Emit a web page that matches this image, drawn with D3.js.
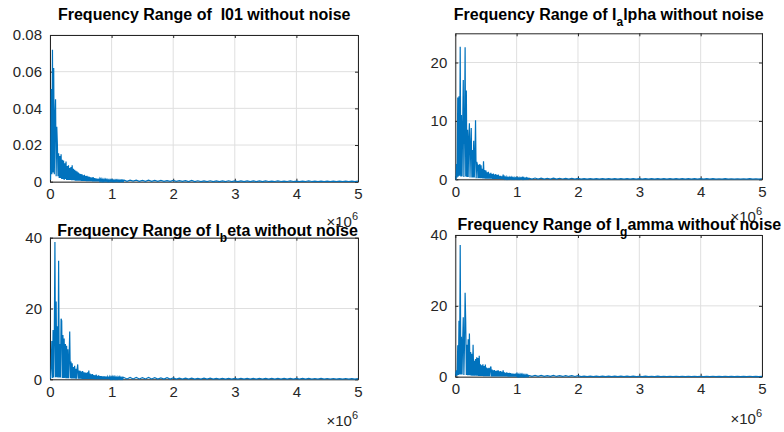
<!DOCTYPE html>
<html><head><meta charset="utf-8">
<script src="https://cdn.jsdelivr.net/npm/d3@7"></script>
<style>
body{margin:0;background:#fff}
svg{display:block;font-family:Arial,"Liberation Sans",Helvetica,sans-serif}
</style>
</head><body><svg id="c" width="784" height="432"></svg>
<script>
// frequency axis in units of 10^6 Hz
const xTicks = [0, 1, 2, 3, 4, 5];
const xTickLabels = ["0", "1", "2", "3", "4", "5"];
const denseStep = 0.01;   // spacing of dense samples (0 .. 1.19)
const tailStart = 1.2;    // first tail sample
const tailStep = 0.05;    // spacing of tail samples (1.2 .. 5.0)

// I01
const i01Dense = [
 0.0065,0.0010,0.0505,0.0040,0.0720,0.0050,0.0620,0.0040,0.0350,0.0450,
 0.0030,0.0300,0.0200,0.0030,0.0155,0.0020,0.0140,0.0020,0.0150,0.0015,
 0.0120,0.0015,0.0115,0.0010,0.0100,0.0015,0.0110,0.0010,0.0085,0.0010,
 0.0090,0.0010,0.0075,0.0010,0.0080,0.0008,0.0090,0.0008,0.0070,0.0008,
 0.0065,0.0006,0.0060,0.0006,0.0055,0.0006,0.0050,0.0005,0.0045,0.0005,
 0.0042,0.0004,0.0040,0.0004,0.0035,0.0004,0.0038,0.0004,0.0030,0.0003,
 0.0032,0.0003,0.0028,0.0003,0.0026,0.0003,0.0024,0.0003,0.0022,0.0002,
 0.0025,0.0002,0.0020,0.0002,0.0018,0.0002,0.0017,0.0002,0.0016,0.0002,
 0.0015,0.0002,0.0014,0.0002,0.0014,0.0002,0.0013,0.0002,0.0012,0.0002,
 0.0012,0.0002,0.0011,0.0001,0.0011,0.0001,0.0010,0.0001,0.0010,0.0001,
 0.0010,0.0001,0.0010,0.0001,0.0009,0.0001,0.0009,0.0001,0.0009,0.0001,
 0.0009,0.0001,0.0009,0.0001,0.0008,0.0001,0.0008,0.0001,0.0008,0.0001];
const i01Tail = [
 0.0009,0.0002,0.0008,0.0003,0.0008,0.0002,0.0007,0.0002,0.0008,0.0002,
 0.0007,0.0002,0.0007,0.0002,0.0006,0.0002,0.0007,0.0002,0.0006,0.0002,
 0.0006,0.0001,0.0007,
 0.0001,0.0005,0.0001,0.0004,0.0001,0.0005,0.0001,0.0004,0.0001,0.0004,
 0.0001,0.0005,0.0001,0.0004,0.0001,0.0004,0.0001,0.0004,0.0001,0.0004,
 0.0001,0.0004,0.0001,0.0004,0.0001,0.0003,0.0001,0.0004,0.0001,0.0003,
 0.0001,0.0004,0.0001,0.0003,0.0001,0.0003,0.0001,0.0004,0.0001,0.0003,
 0.0001,0.0003,0.0001,0.0003,0.0001,0.0003,0.0001,0.0003,0.0001,0.0003,
 0.0001,0.0003,0.0001,0.0003];

// I_alpha
const iAlphaDense = [
 0.3,0.1,2.6,0.3,14.0,0.5,14.2,0.6,22.7,0.5,
 11.0,0.5,9.0,17.0,0.4,8.0,22.6,0.5,15.2,0.4,
 8.5,0.4,7.0,9.6,0.3,5.5,8.8,0.3,5.0,0.3,
 6.6,0.3,4.0,10.1,0.2,3.0,2.5,0.2,2.5,0.2,
 2.6,0.2,2.4,0.2,1.8,0.15,3.1,0.15,1.6,0.1,
 1.5,0.1,1.2,0.1,1.3,0.1,1.0,0.1,1.1,0.1,
 0.9,0.08,1.0,0.08,0.8,0.08,0.9,0.06,0.7,0.06,
 0.8,0.06,0.6,0.05,0.6,0.05,0.5,0.05,0.8,0.04,
 0.4,0.04,0.35,0.04,0.4,0.04,0.3,0.04,0.35,0.04,
 0.3,0.04,0.35,0.04,0.3,0.03,0.3,0.03,0.25,0.03,
 0.3,0.03,0.25,0.03,0.3,0.03,0.25,0.03,0.25,0.03,
 0.45,0.03,0.25,0.03,0.2,0.03,0.25,0.03,0.2,0.03];
const iAlphaTail = [
 0.2,0.05,0.22,0.05,0.2,0.05,0.18,0.05,0.2,0.04,0.18,0.05,0.16,0.04,0.18,0.04,0.16,
 0.03,0.12,0.03,0.13,0.03,0.12,0.03,0.11,0.03,0.12,
 0.03,0.12,0.03,0.11,0.03,0.12,0.03,0.11,0.03,0.1,
 0.03,0.11,0.03,0.1,0.03,0.11,0.03,0.1,0.03,0.1,
 0.03,0.1,0.03,0.11,0.03,0.1,0.03,0.1,0.03,0.1,
 0.02,0.1,0.02,0.1,0.02,0.09,0.02,0.1,0.02,0.09,
 0.02,0.09,0.02,0.09,0.02,0.1,0.02,0.09,0.02,0.09];

// I_beta
const iBetaDense = [
 1.0,0.2,4.0,10.8,0.4,13.9,0.5,12.0,38.8,0.6,
 22.0,0.6,15.0,0.5,33.5,0.5,10.0,0.5,17.1,16.5,
 0.4,12.5,0.4,11.5,0.4,10.0,0.3,9.5,0.3,8.5,
 0.3,6.0,13.5,0.3,5.0,0.2,4.5,0.2,3.5,0.2,
 3.8,0.2,3.0,0.2,2.8,4.2,0.15,2.5,0.15,2.4,
 0.15,2.2,0.12,2.3,0.12,2.0,0.1,1.9,0.1,1.8,
 0.1,2.0,0.1,2.5,0.1,1.6,0.08,1.4,0.08,1.5,
 0.08,1.2,0.06,1.1,0.06,1.3,0.06,1.0,0.05,1.1,
 0.05,0.9,0.05,0.9,0.05,0.8,0.05,0.85,0.04,0.8,
 0.04,0.75,0.04,0.7,0.04,0.75,0.04,0.7,0.04,0.65,
 0.04,0.7,0.03,0.6,0.03,0.65,0.03,0.6,0.03,0.6,
 0.03,0.55,0.03,0.6,0.03,0.55,0.03,0.5,0.03,0.55];
const iBetaTail = [
 0.5,0.1,0.55,0.1,0.5,0.1,0.45,0.1,0.5,0.1,0.45,0.08,0.4,0.08,0.45,0.08,0.4,
 0.05,0.3,0.05,0.32,0.05,0.3,0.05,0.28,0.05,0.3,
 0.05,0.3,0.05,0.28,0.05,0.27,0.05,0.28,0.05,0.26,
 0.05,0.27,0.05,0.25,0.05,0.26,0.05,0.25,0.05,0.25,
 0.04,0.25,0.04,0.24,0.04,0.25,0.04,0.24,0.04,0.23,
 0.04,0.24,0.04,0.23,0.04,0.22,0.04,0.23,0.04,0.22,
 0.04,0.22,0.04,0.21,0.04,0.22,0.04,0.21,0.04,0.2];

// I_gamma
const iGammaDense = [
 1.5,0.2,1.8,0.3,8.9,0.5,15.8,0.6,37.2,0.6,
 11.3,0.6,10.0,16.8,0.5,9.0,23.7,15.4,0.5,9.0,
 0.4,10.6,0.4,12.2,0.4,7.0,0.3,6.5,0.3,9.0,
 0.3,4.5,0.3,5.0,0.25,5.5,0.25,5.3,0.2,5.9,
 0.2,3.5,0.2,3.2,0.2,3.5,0.15,3.0,0.15,3.4,
 0.15,2.6,0.12,2.4,0.12,2.5,0.12,2.2,2.9,0.1,
 2.0,0.1,1.8,0.1,1.9,0.08,1.6,0.08,1.7,0.08,
 1.8,0.08,1.5,0.06,1.6,0.06,1.4,0.06,1.8,0.05,
 1.2,0.05,1.1,0.05,1.2,0.05,1.0,0.04,1.1,0.04,
 1.0,0.04,0.9,0.04,0.9,0.04,0.8,0.04,0.85,0.03,
 0.7,0.03,0.7,0.03,0.65,0.03,0.6,0.03,0.6,0.03,
 0.6,0.03,0.55,0.03,0.5,0.03,0.5,0.03,0.45,0.03];
const iGammaTail = [
 0.35,0.08,0.38,0.08,0.35,0.08,0.32,0.08,0.34,0.07,0.3,0.07,0.32,0.07,0.3,0.06,0.28,
 0.03,0.15,0.03,0.16,0.03,0.15,0.03,0.14,0.03,0.15,
 0.03,0.15,0.03,0.14,0.03,0.14,0.03,0.15,0.03,0.13,
 0.03,0.14,0.03,0.13,0.03,0.14,0.03,0.13,0.03,0.13,
 0.02,0.13,0.02,0.12,0.02,0.13,0.02,0.12,0.02,0.12,
 0.02,0.12,0.02,0.12,0.02,0.11,0.02,0.12,0.02,0.11,
 0.02,0.11,0.02,0.11,0.02,0.12,0.02,0.11,0.02,0.1];

const yTicksI01 = [0, 0.02, 0.04, 0.06, 0.08];
const yLabelsI01 = ["0", "0.02", "0.04", "0.06", "0.08"];
const yTicksAlpha = [0, 10, 20];
const yLabelsAlpha = ["0", "10", "20"];
const yTicksBeta = [0, 20, 40];
const yLabelsBeta = ["0", "20", "40"];
const yTicksGamma = [0, 20, 40];
const yLabelsGamma = ["0", "20", "40"];

// titles: [before subscript, subscript, after subscript]
const titleI01 = ["Frequency Range of  I01 without noise", "", ""];
const titleAlpha = ["Frequency Range of I", "a", "lpha without noise"];
const titleBeta = ["Frequency Range of I", "b", "eta without noise"];
const titleGamma = ["Frequency Range of I", "g", "amma without noise"];

const svg = d3.select("#c");
svg.append("rect").attr("width", 784).attr("height", 432).attr("fill", "#fff");

const AX = "#262626", GRID = "#dfdfdf", LINE = "#0072BD";

const panels = [
  {dense: i01Dense, tail: i01Tail, yMax: 0.08, yTicks: yTicksI01, yLabels: yLabelsI01, title: titleI01,
   x0: 50, x1: 358, y0: 35, y1: 181.7, tcx: 204.2, tby: 19.5, expY: 227},
  {dense: iAlphaDense, tail: iAlphaTail, yMax: 25, yTicks: yTicksAlpha, yLabels: yLabelsAlpha, title: titleAlpha,
   x0: 455.3, x1: 762, y0: 33.3, y1: 179.3, tcx: 608.7, tby: 20, expY: 222},
  {dense: iBetaDense, tail: iBetaTail, yMax: 40, yTicks: yTicksBeta, yLabels: yLabelsBeta, title: titleBeta,
   x0: 50, x1: 358, y0: 237.7, y1: 379.3, tcx: 207.5, tby: 236, expY: 426},
  {dense: iGammaDense, tail: iGammaTail, yMax: 40, yTicks: yTicksGamma, yLabels: yLabelsGamma, title: titleGamma,
   x0: 455.3, x1: 762, y0: 235, y1: 376.7, tcx: 619.3, tby: 230, expY: 423.5}
];

// exponent labels first (titles are drawn over them)
panels.forEach(p => {
  const t = svg.append("text").attr("x", p.x1).attr("y", p.expY)
    .attr("text-anchor", "end").attr("fill", AX).style("font-size", "15px");
  t.append("tspan").text("\u00D710");
  t.append("tspan").attr("dy", -7).style("font-size", "11px").text("6");
});

panels.forEach((p, k) => {
  const x = d3.scaleLinear().domain([0, 5]).range([p.x0, p.x1]);
  const y = d3.scaleLinear().domain([0, p.yMax]).range([p.y1, p.y0]);
  const g = svg.append("g");
  g.append("rect").attr("x", p.x0).attr("y", p.y0).attr("width", p.x1 - p.x0).attr("height", p.y1 - p.y0).attr("fill", "#fff");

  // grid
  g.selectAll(".gx").data(xTicks).join("line")
    .attr("x1", d => x(d)).attr("x2", d => x(d)).attr("y1", p.y0).attr("y2", p.y1)
    .attr("stroke", GRID).attr("stroke-width", 1);
  g.selectAll(".gy").data(p.yTicks).join("line")
    .attr("x1", p.x0).attr("x2", p.x1).attr("y1", d => y(d)).attr("y2", d => y(d))
    .attr("stroke", GRID).attr("stroke-width", 1);

  // axes with inward ticks (all four sides)
  const fmtX = (d, i) => xTickLabels[i];
  const fmtY = (d, i) => p.yLabels[i];
  const bottom = g.append("g").attr("transform", `translate(0,${p.y1})`)
    .call(d3.axisBottom(x).tickValues(xTicks).tickFormat(fmtX).tickSizeInner(-3).tickSizeOuter(0).tickPadding(7));
  const top = g.append("g").attr("transform", `translate(0,${p.y0})`)
    .call(d3.axisTop(x).tickValues(xTicks).tickFormat("").tickSizeInner(-3).tickSizeOuter(0));
  const left = g.append("g").attr("transform", `translate(${p.x0},0)`)
    .call(d3.axisLeft(y).tickValues(p.yTicks).tickFormat(fmtY).tickSizeInner(-3).tickSizeOuter(0).tickPadding(8));
  const right = g.append("g").attr("transform", `translate(${p.x1},0)`)
    .call(d3.axisRight(y).tickValues(p.yTicks).tickFormat("").tickSizeInner(-3).tickSizeOuter(0));
  [bottom, top, left, right].forEach(a => {
    a.selectAll("path").attr("stroke", AX);
    a.selectAll("line").attr("stroke", AX);
    a.selectAll("text").attr("fill", AX).style("font-size", "15px").style("font-family", "Arial, 'Liberation Sans', sans-serif");
  });

  // data
  const pts = p.dense.map((v, i) => [i * denseStep, v])
    .concat(p.tail.map((v, j) => [tailStart + j * tailStep, v]));
  const clipId = "clip" + k;
  svg.append("clipPath").attr("id", clipId).append("rect")
    .attr("x", p.x0).attr("y", p.y0 - 1).attr("width", p.x1 - p.x0 + 1).attr("height", p.y1 - p.y0 + 2);
  g.append("path").datum(pts).attr("clip-path", `url(#${clipId})`)
    .attr("fill", "none").attr("stroke", LINE).attr("stroke-width", 1.2)
    .attr("d", d3.line().x(d => x(d[0])).y(d => y(d[1])));
});

// titles
panels.forEach(p => {
  const t = svg.append("text").attr("x", p.tcx).attr("y", p.tby).attr("text-anchor", "middle")
    .attr("fill", "#000").style("font-weight", "bold").style("font-size", "16px")
    .attr("xml:space", "preserve").style("white-space", "pre");
  t.append("tspan").text(p.title[0]);
  if (p.title[1]) {
    t.append("tspan").attr("dy", 6).style("font-size", "12px").text(p.title[1]);
    t.append("tspan").attr("dy", -6).text(p.title[2]);
  }
});
</script>
</body></html>
